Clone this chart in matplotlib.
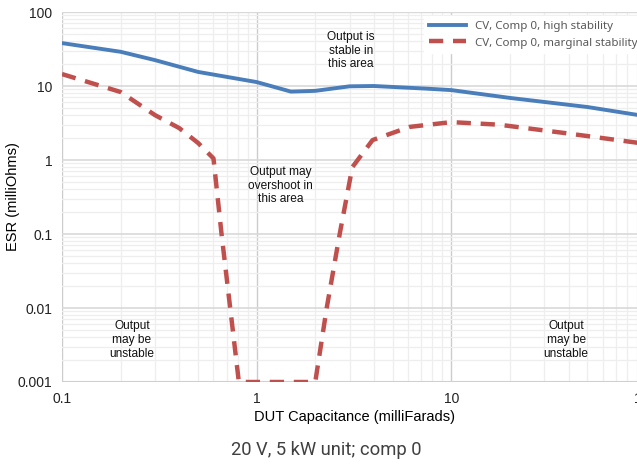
import matplotlib
matplotlib.use('Agg')
import matplotlib.pyplot as plt
from matplotlib.ticker import FixedLocator, LogLocator, NullFormatter

# values (capacitance in mF, ESR in mOhm)
cap_high = [0.1, 0.2, 0.3, 0.5, 1.0, 1.5, 2.0, 3.0, 4.0, 7.5, 10, 20, 50, 100]
esr_high = [38, 29, 22.4, 15.5, 11.3, 8.4, 8.6, 9.9, 10.0, 9.2, 8.8, 6.9, 5.2, 3.9]

cap_marg = [0.1, 0.2, 0.3, 0.4, 0.5, 0.6, 0.66, 0.81, 2.0, 2.29, 2.67, 3.1, 3.94,
            6.1, 10, 17.6, 38.9, 100]
esr_marg = [14.5, 8.3, 4.05, 2.7, 1.7, 1.05, 0.1, 0.001, 0.001, 0.01, 0.1, 0.8, 1.86,
            2.8, 3.25, 3.0, 2.3, 1.65]

x_ticks = [0.1, 1, 10, 100]
x_labels = ['0.1', '1', '10', '100']
y_ticks = [0.001, 0.01, 0.1, 1, 10, 100]
y_labels = ['0.001', '0.01', '0.1', '1', '10', '100']

plt.rcParams['font.family'] = ['Liberation Sans', 'DejaVu Sans']

fig = plt.figure(figsize=(6.37, 4.66), dpi=100)
ax = fig.add_axes([62 / 637, 84 / 466, 584 / 637, 370 / 466])
ax.set_xscale('log')
ax.set_yscale('log')
ax.set_xlim(0.1, 100)
ax.set_ylim(0.001, 100)

ax.plot(cap_high, esr_high, color='#4a7ebb', lw=2.8, label='CV, Comp 0, high stability')
ax.plot(cap_marg, esr_marg, color='#c0504d', lw=3.2, dashes=(3.2, 2.2),
        label='CV, Comp 0, marginal stability')

ax.xaxis.set_major_locator(FixedLocator(x_ticks))
ax.set_xticklabels(x_labels)
ax.yaxis.set_major_locator(FixedLocator(y_ticks))
ax.set_yticklabels(y_labels)
ax.xaxis.set_minor_locator(LogLocator(base=10, subs=range(2, 10), numticks=20))
ax.yaxis.set_minor_locator(LogLocator(base=10, subs=range(2, 10), numticks=20))
ax.xaxis.set_minor_formatter(NullFormatter())
ax.yaxis.set_minor_formatter(NullFormatter())
ax.tick_params(which='both', length=0, labelsize=10, colors='#222222', pad=7)

ax.grid(True, which='major', axis='y', color='#d9d9d9', lw=1.2)
ax.grid(True, which='major', axis='x', color='#cccccc', lw=1.0)
ax.grid(True, which='minor', color='#eeeeee', lw=0.9)
ax.set_axisbelow(True)
for s in ax.spines.values():
    s.set_visible(False)
ax.axhline(0.001, color='#d0d0d0', lw=1.5, zorder=1)
ax.axhline(100, color='#d9d9d9', lw=1.0, zorder=1)

ax.set_xlabel('DUT Capacitance (milliFarads)', fontsize=10.5)
ax.set_ylabel('ESR (milliOhms)', fontsize=10.5)
ax.xaxis.set_label_coords(0.5, -0.076)
ax.yaxis.set_label_coords(-0.072, 0.5)

note = dict(fontsize=8.6, ha='center', va='center', color='#111111', linespacing=1.2)
ax.text(3.06, 30, 'Output is\nstable in\nthis area', **note)
ax.text(1.33, 0.45, 'Output may\novershoot in\nthis area', **note)
ax.text(0.229, 0.0037, 'Output\nmay be\nunstable', **note)
ax.text(38.9, 0.0037, 'Output\nmay be\nunstable', **note)

leg = ax.legend(loc='upper right', frameon=True, fancybox=False,
                edgecolor='white', framealpha=1, handlelength=3.2,
                borderaxespad=0.0, labelspacing=0.5,
                prop={'family': 'Noto Sans', 'size': 8.3})
for t in leg.get_texts():
    t.set_color('#595959')
leg.set_bbox_to_anchor((1 + 5 / 637, 1 - 16 / 466), transform=fig.transFigure)

fig.text(326 / 637, 1 - 450 / 466, '20 V, 5 kW unit; comp 0', ha='center', va='center',
         fontsize=13.2, color='#404040', family='Roboto')

fig.savefig('out.png', dpi=100)
